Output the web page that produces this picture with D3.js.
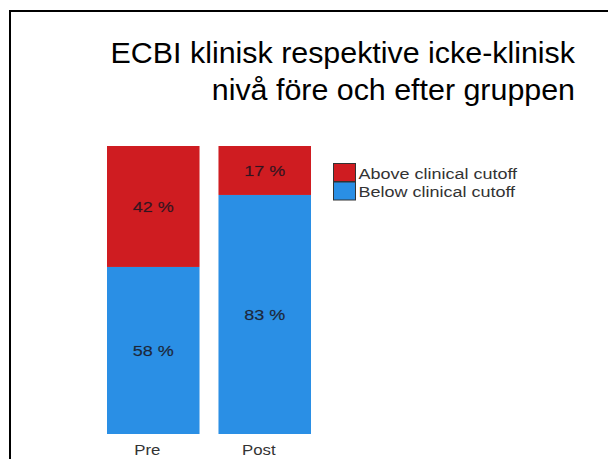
<!DOCTYPE html>
<html>
<head>
<meta charset="utf-8">
<script src="https://cdn.jsdelivr.net/npm/d3@7"></script>
<style>
  html, body { margin: 0; padding: 0; background: #fff; }
  svg { display: block; font-family: "Liberation Sans", Arial, Helvetica, sans-serif; }
</style>
</head>
<body>
<svg id="chart" width="608" height="459"></svg>
<script>
// data
const groups = ["Pre", "Post"];
const above = [42, 17];
const below = [58, 83];
const seriesNames = ["Above clinical cutoff", "Below clinical cutoff"];
const titleLines = ["ECBI klinisk respektive icke-klinisk", "nivå före och efter gruppen"];

const colors = { above: "#cf1c21", below: "#2a8fe5" };
// the small texts of the original slide are stretched horizontally
const stretch = 1.2;

var svg = d3.select("#chart");

// slide frame (left + top edges)
svg.append("path")
    .attr("d", "M10,459 V11 H608")
    .attr("fill", "none")
    .attr("stroke", "#000")
    .attr("stroke-width", 2);

// title, right aligned
svg.append("g").selectAll("text")
    .data(titleLines)
    .join("text")
    .attr("x", 575)
    .attr("y", (d, i) => 63 + i * 37)
    .attr("text-anchor", "end")
    .attr("font-size", "30.4px")
    .attr("fill", "#000")
    .text(d => d);

var x = d3.scaleBand()
    .domain(groups)
    .range([107, 311])
    .paddingInner(0.17)
    .paddingOuter(0);

var y = d3.scaleLinear()
    .domain([0, 100])
    .range([434, 146]);

var rows = groups.map((g, i) => ({ group: g, below: below[i], above: above[i] }));
var stacked = d3.stack().keys(["below", "above"])(rows);

var layers = svg.append("g").selectAll("g")
    .data(stacked)
    .join("g")
    .attr("fill", d => colors[d.key]);

layers.selectAll("rect")
    .data(d => d)
    .join("rect")
    .attr("x", d => x(d.data.group))
    .attr("y", d => y(d[1]))
    .attr("width", x.bandwidth())
    .attr("height", d => y(d[0]) - y(d[1]));

layers.selectAll("text")
    .data(d => d)
    .join("text")
    .attr("transform", d => "translate(" + (x(d.data.group) + x.bandwidth() / 2) + ","
        + ((y(d[0]) + y(d[1])) / 2) + ") scale(" + stretch + ",1)")
    .attr("dy", "0.35em")
    .attr("text-anchor", "middle")
    .attr("font-size", "15px")
    .attr("fill", "#1a1420")
    .attr("fill-opacity", 0.85)
    .attr("stroke", "#1a1420")
    .attr("stroke-opacity", 0.35)
    .attr("stroke-width", 0.5)
    .text(d => (d[1] - d[0]) + " %");

// category labels
svg.append("g").selectAll("text")
    .data(groups)
    .join("text")
    .attr("transform", d => "translate(" + (x(d) + x.bandwidth() / 2 - 6) + ",455) scale(" + stretch + ",1)")
    .attr("text-anchor", "middle")
    .attr("font-size", "14px")
    .attr("fill", "#333")
    .text(d => d);

// legend
var legend = svg.append("g").attr("transform", "translate(333.5,163.5)");
var legendItems = legend.selectAll("g")
    .data(seriesNames)
    .join("g")
    .attr("transform", (d, i) => "translate(0," + i * 18.5 + ")");

legendItems.append("rect")
    .attr("width", 22)
    .attr("height", 18)
    .attr("fill", (d, i) => i === 0 ? colors.above : colors.below)
    .attr("stroke", "#333")
    .attr("stroke-width", 1);

legendItems.append("text")
    .attr("transform", "translate(25,15) scale(" + stretch + ",1)")
    .attr("font-size", "15px")
    .attr("fill", "#333")
    .text(d => d);
</script>
</body>
</html>
